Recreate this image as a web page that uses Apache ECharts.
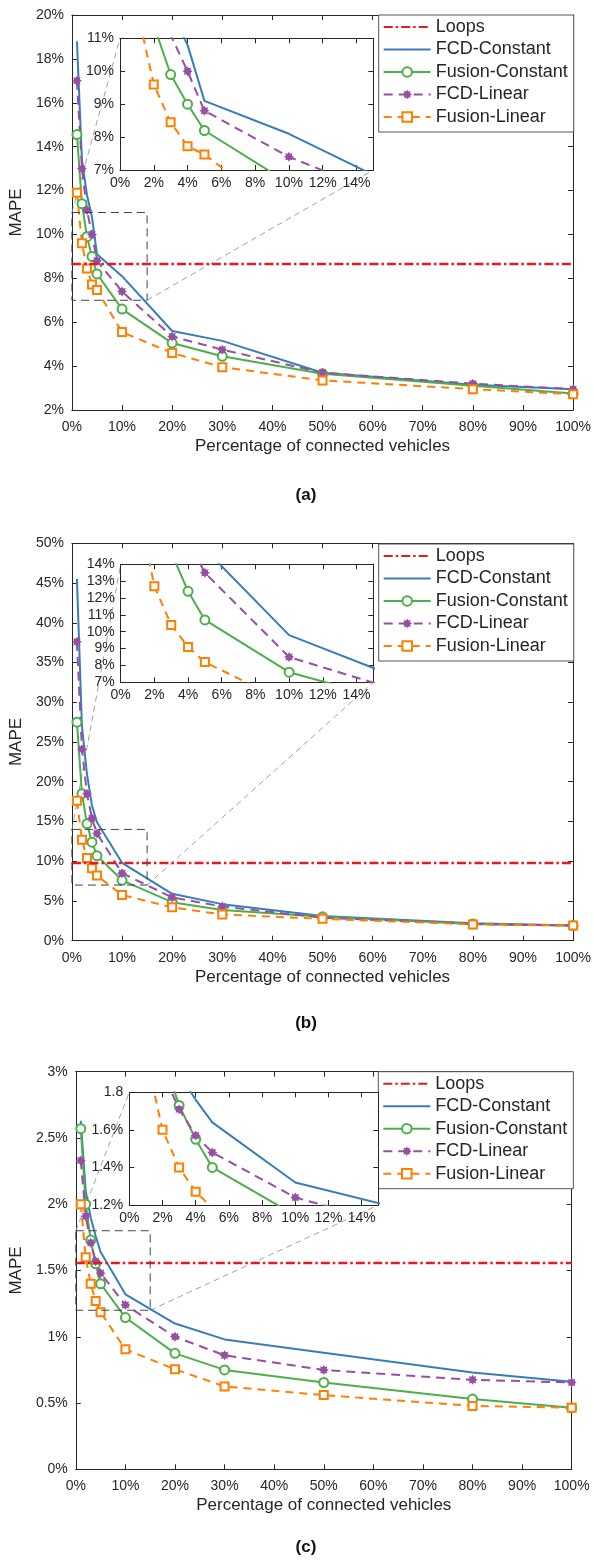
<!DOCTYPE html>
<html>
<head>
<meta charset="utf-8">
<script src="https://cdn.jsdelivr.net/npm/echarts@6/dist/echarts.min.js"></script>
<style>
html, body { margin: 0; padding: 0; background: #fff; }
#main { width: 594px; height: 1565px; }
</style>
</head>
<body>
<div id="main"></div>
<script>
// penetration rates (x axis, %)
var pct = [1, 2, 3, 4, 5, 10, 20, 30, 50, 80, 100];
var names = ['Loops', 'FCD-Constant', 'Fusion-Constant', 'FCD-Linear', 'Fusion-Linear'];

// panel (a)
var loopsA = 8.68;
var fcdConstA = [18.8, 13.4, 11.8, 10.8, 9.1, 8.1, 5.6, 5.15, 3.7, 3.15, 2.95];
var fusionConstA = [14.55, 11.4, 9.9, 9.0, 8.2, 6.6, 5.05, 4.45, 3.65, 3.1, 2.75];
var fcdLinearA = [17.0, 13.0, 11.1, 10.0, 8.8, 7.4, 5.35, 4.75, 3.7, 3.2, 2.95];
var fusionLinearA = [11.9, 9.6, 8.45, 7.72, 7.47, 5.55, 4.6, 3.95, 3.35, 2.95, 2.72];
var yRangeA = [2, 20], yStepA = 2;
var zoomXA = [0, 15], zoomYA = [7, 11], zoomStepA = 1;

// panel (b)
var loopsB = 9.85;
var fcdConstB = [45.5, 27.0, 21.0, 17.0, 14.9, 9.8, 5.9, 4.6, 3.1, 2.2, 1.9];
var fusionConstB = [27.5, 18.5, 14.7, 12.4, 10.7, 7.6, 4.85, 3.85, 3.0, 2.1, 1.9];
var fcdLinearB = [37.6, 24.1, 18.5, 15.4, 13.5, 8.5, 5.45, 4.3, 2.9, 2.1, 1.9];
var fusionLinearB = [17.6, 12.7, 10.4, 9.1, 8.2, 5.75, 4.2, 3.3, 2.75, 2.05, 1.9];
var yRangeB = [0, 50], yStepB = 5;
var zoomXB = [0, 15], zoomYB = [7, 14], zoomStepB = 1;

// panel (c)
var loopsC = 1.56;
var fcdConstC = [2.63, 2.1, 1.9, 1.76, 1.64, 1.32, 1.1, 0.98, 0.88, 0.73, 0.66];
var fusionConstC = [2.57, 2.0, 1.73, 1.55, 1.4, 1.145, 0.875, 0.75, 0.655, 0.53, 0.465];
var fcdLinearC = [2.33, 1.91, 1.71, 1.57, 1.48, 1.24, 1.0, 0.86, 0.75, 0.675, 0.655];
var fusionLinearC = [2.0, 1.6, 1.4, 1.27, 1.185, 0.905, 0.755, 0.625, 0.56, 0.478, 0.465];
var yRangeC = [0, 3], yStepC = 0.5;
var zoomXC = [0, 15], zoomYC = [1.2, 1.8], zoomStepC = 0.2;

var xRangeMain = [0, 100], xStepMain = 10, xStepZoom = 2;

var axisColor = '#262626';
var font = "'Liberation Sans', Arial, Helvetica, sans-serif";
var colors = ['#e41a1c', '#377eb8', '#4daf4a', '#984ea3', '#ff7f00'];
var loopDash = [9, 3, 2.5, 3];

function starPath() {
    var pts = [];
    for (var i = 0; i < 16; i++) {
        var a = Math.PI * i / 8;
        var r = i % 2 ? 6.5 : 10;
        pts.push((10 + r * Math.sin(a)).toFixed(2) + ' ' + (10 - r * Math.cos(a)).toFixed(2));
    }
    return 'path://M' + pts.join(' L') + ' Z';
}
var star = starPath();

var grids = [
    { left: 71.7, top: 15, width: 503.3, height: 395 },
    { left: 120, top: 38.3, width: 253.3, height: 131.7, show: true, backgroundColor: '#fff', borderWidth: 0, zlevel: 1 },
    { left: 70.3, top: 543.3, width: 504.7, height: 397.4 },
    { left: 120.7, top: 564.3, width: 252.6, height: 118, show: true, backgroundColor: '#fff', borderWidth: 0, zlevel: 1 },
    { left: 74.7, top: 1071.7, width: 497, height: 397.6 },
    { left: 129.3, top: 1092.3, width: 249, height: 112.7, show: true, backgroundColor: '#fff', borderWidth: 0, zlevel: 1 }
];

var xAxes = [], yAxes = [], series = [];

function axisBase(gi, zl) {
    return {
        type: 'value', gridIndex: gi, zlevel: zl,
        axisLine: { show: true, onZero: false, lineStyle: { color: axisColor, width: 1 } },
        axisTick: { show: true, inside: true, length: 5, lineStyle: { color: axisColor } },
        splitLine: { show: false }
    };
}

function addAxes(gi, xr, xStep, yr, yStep, xFmt, yFmt, inset, yNameGap) {
    var zl = inset ? 1 : 0;
    var labelStyle = { color: axisColor, fontSize: 14, fontFamily: font };
    var xb = axisBase(gi, zl);
    xb.position = 'bottom'; xb.min = xr[0]; xb.max = xr[1]; xb.interval = xStep;
    xb.axisLabel = Object.assign({ formatter: xFmt, margin: inset ? 6 : 10 }, labelStyle);
    if (!inset) {
        xb.name = 'Percentage of connected vehicles';
        xb.nameLocation = 'middle';
        xb.nameGap = 28;
        xb.nameTextStyle = { color: axisColor, fontSize: 17, fontFamily: font };
    }
    var xt = axisBase(gi, zl);
    xt.position = 'top'; xt.min = xr[0]; xt.max = xr[1]; xt.interval = xStep;
    xt.axisLabel = { show: false };
    var yl = axisBase(gi, zl);
    yl.position = 'left'; yl.min = yr[0]; yl.max = yr[1]; yl.interval = yStep;
    yl.axisLabel = Object.assign({ formatter: yFmt, margin: inset ? 6 : 8 }, labelStyle);
    if (!inset) {
        yl.name = 'MAPE';
        yl.nameLocation = 'middle';
        yl.nameGap = yNameGap;
        yl.nameTextStyle = { color: axisColor, fontSize: 17, fontFamily: font };
    }
    var yr2 = axisBase(gi, zl);
    yr2.position = 'right'; yr2.min = yr[0]; yr2.max = yr[1]; yr2.interval = yStep;
    yr2.axisLabel = { show: false };
    xAxes.push(xb, xt);
    yAxes.push(yl, yr2);
}

function pctFmt(v) { return v + '%'; }
function zoomXFmt(v) { return v % 2 === 0 ? v + '%' : ''; }

function pairs(vals) {
    return pct.map(function (p, i) { return [p, vals[i]]; });
}

function addSeries(gi, loops, sets) {
    var zl = gi % 2 ? 1 : 0;
    var ax = gi * 2;
    series.push({
        name: names[0], type: 'line', xAxisIndex: ax, yAxisIndex: ax, zlevel: zl,
        data: [], symbol: 'none', color: colors[0],
        lineStyle: { color: colors[0], width: 2.4, type: loopDash },
        markLine: {
            silent: true, symbol: 'none', animation: false,
            label: { show: false },
            lineStyle: { color: colors[0], width: 2.4, type: loopDash },
            data: [{ yAxis: loops }]
        }
    });
    series.push({
        name: names[1], type: 'line', xAxisIndex: ax, yAxisIndex: ax, zlevel: zl,
        data: pairs(sets[0]), symbol: 'none', color: colors[1],
        lineStyle: { color: colors[1], width: 2 }
    });
    series.push({
        name: names[2], type: 'line', xAxisIndex: ax, yAxisIndex: ax, zlevel: zl,
        data: pairs(sets[1]), symbol: 'emptyCircle', symbolSize: 9, color: colors[2],
        itemStyle: { color: colors[2], borderColor: colors[2], borderWidth: 1.8 },
        lineStyle: { color: colors[2], width: 2 }
    });
    series.push({
        name: names[3], type: 'line', xAxisIndex: ax, yAxisIndex: ax, zlevel: zl,
        data: pairs(sets[2]), symbol: star, symbolSize: 10, color: colors[3],
        itemStyle: { color: colors[3] },
        lineStyle: { color: colors[3], width: 2, type: [9, 6] }
    });
    series.push({
        name: names[4], type: 'line', xAxisIndex: ax, yAxisIndex: ax, zlevel: zl,
        data: pairs(sets[3]), symbol: 'emptyRect', symbolSize: 8, color: colors[4],
        itemStyle: { color: colors[4], borderColor: colors[4], borderWidth: 2 },
        lineStyle: { color: colors[4], width: 2, type: [8, 6] }
    });
}

function yFmtC(v) { return v + '%'; }
function zoomYFmtC(v) { return Math.abs(v - 1.8) < 1e-6 ? '1.8' : v.toFixed(1) + '%'; }

addAxes(0, xRangeMain, xStepMain, yRangeA, yStepA, pctFmt, pctFmt, false, 43);
addAxes(1, zoomXA, xStepZoom, zoomYA, zoomStepA, zoomXFmt, pctFmt, true);
addAxes(2, xRangeMain, xStepMain, yRangeB, yStepB, pctFmt, pctFmt, false, 43);
addAxes(3, zoomXB, xStepZoom, zoomYB, zoomStepB, zoomXFmt, pctFmt, true);
addAxes(4, xRangeMain, xStepMain, yRangeC, yStepC, pctFmt, yFmtC, false, 46);
addAxes(5, zoomXC, xStepZoom, zoomYC, zoomStepC, zoomXFmt, zoomYFmtC, true);

var setsA = [fcdConstA, fusionConstA, fcdLinearA, fusionLinearA];
var setsB = [fcdConstB, fusionConstB, fcdLinearB, fusionLinearB];
var setsC = [fcdConstC, fusionConstC, fcdLinearC, fusionLinearC];
addSeries(0, loopsA, setsA);
addSeries(1, loopsA, setsA);
addSeries(2, loopsB, setsB);
addSeries(3, loopsB, setsB);
addSeries(4, loopsC, setsC);
addSeries(5, loopsC, setsC);

// lines without markers get no symbol in the legend
var legendItems = names.map(function (n, i) {
    return i < 2 ? { name: n, itemStyle: { opacity: 0 } } : { name: n };
});

function legendAt(left, top) {
    return {
        data: legendItems, orient: 'vertical', left: left, top: top,
        selectedMode: false,
        itemWidth: 47, itemHeight: 12, itemGap: 4.5,
        padding: [3, 6, 6, 4],
        backgroundColor: '#fff', borderColor: '#555', borderWidth: 1,
        textStyle: { color: axisColor, fontSize: 18, lineHeight: 18, fontFamily: font }
    };
}

var chart = echarts.init(document.getElementById('main'), null, { renderer: 'canvas' });
chart.setOption({
    animation: false,
    backgroundColor: '#fff',
    grid: grids,
    xAxis: xAxes,
    yAxis: yAxes,
    legend: [legendAt(378.7, 15), legendAt(378.7, 544), legendAt(378.3, 1071.7)],
    series: series
});

// zoom box in the main plot plus the two guide lines to the inset
function zoomMarks(mainGi, insetGi, xr, yr) {
    var a = chart.convertToPixel({ gridIndex: mainGi }, [xr[0], yr[1]]);
    var b = chart.convertToPixel({ gridIndex: mainGi }, [xr[1], yr[0]]);
    var c = chart.convertToPixel({ gridIndex: insetGi }, [xr[0], yr[1]]);
    var d = chart.convertToPixel({ gridIndex: insetGi }, [xr[1], yr[0]]);
    var guide = { stroke: '#8a8a8a', lineWidth: 0.8, lineDash: [6, 4] };
    return [
        { type: 'rect', z: 5, silent: true,
          shape: { x: a[0], y: a[1], width: b[0] - a[0], height: b[1] - a[1] },
          style: { fill: null, stroke: '#444', lineWidth: 1, lineDash: [8, 5] } },
        { type: 'line', z: 1, silent: true,
          shape: { x1: a[0], y1: a[1], x2: c[0], y2: c[1] }, style: guide },
        { type: 'line', z: 1, silent: true,
          shape: { x1: b[0], y1: b[1], x2: d[0], y2: d[1] }, style: guide }
    ];
}

function caption(text, x, y) {
    return { type: 'text', silent: true, x: x, y: y,
        style: { text: text, fill: '#111', font: 'bold 17px ' + font, textAlign: 'center', textVerticalAlign: 'middle' } };
}

chart.setOption({
    graphic: [].concat(
        zoomMarks(0, 1, zoomXA, zoomYA),
        zoomMarks(2, 3, zoomXB, zoomYB),
        zoomMarks(4, 5, zoomXC, zoomYC),
        [caption('(a)', 306, 495), caption('(b)', 306, 1023), caption('(c)', 306, 1547)]
    )
});
</script>
</body>
</html>
